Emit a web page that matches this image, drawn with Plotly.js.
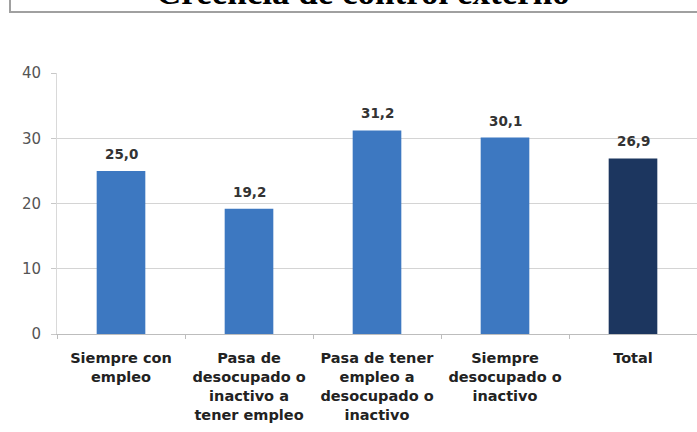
<!DOCTYPE html>
<html><head><meta charset="utf-8">
<script src="https://cdn.plot.ly/plotly-3.0.1.min.js"></script>
<style>html,body{margin:0;padding:0;background:#fff}#c{width:697px;height:432px}</style>
</head><body><div id="c"></div>
<script>
const categories = [
  "Siempre con<br>empleo",
  "Pasa de<br>desocupado o<br>inactivo a<br>tener empleo",
  "Pasa de tener<br>empleo a<br>desocupado o<br>inactivo",
  "Siempre<br>desocupado o<br>inactivo",
  "Total"
];
const values = [25.0, 19.2, 31.2, 30.1, 26.9];
const valueLabels = ["25,0", "19,2", "31,2", "30,1", "26,9"];
const barColors = ["#3d78c1", "#3d78c1", "#3d78c1", "#3d78c1", "#1c365f"];
const yTicks = [0, 10, 20, 30, 40];

const W = 697, H = 432, L = 57, R = 0, T = 73, B = 98;
const pw = W - L - R, ph = H - T - B;
const px = x => (x - L) / pw;
const py = y => (H - B - y) / ph;

const trace = {
  type: "bar",
  x: categories,
  y: values,
  width: 0.38,
  marker: { color: barColors, line: { width: 0 } },
  hoverinfo: "skip"
};

const labelAnns = categories.map((c, i) => ({
  x: c, y: values[i], xref: "x", yref: "y",
  text: "<b>" + valueLabels[i] + "</b>",
  showarrow: false, xanchor: "center", yanchor: "bottom", yshift: 7,
  font: { family: "DejaVu Sans", size: 13.5, color: "#333333" }
}));

const layout = {
  width: W, height: H,
  margin: { l: L, r: R, t: T, b: B, pad: 0 },
  paper_bgcolor: "#ffffff",
  plot_bgcolor: "#ffffff",
  showlegend: false,
  font: { family: "DejaVu Sans", color: "#444" },
  xaxis: {
    type: "category",
    range: [-0.5, 4.5],
    showgrid: false,
    showline: true, linecolor: "#bdbdbd", linewidth: 1,
    ticks: "outside", ticklen: 4, tickcolor: "#bdbdbd",
    tickson: "boundaries",
    tickfont: { family: "DejaVu Sans", size: 14.5, color: "#222222", weight: "bold" },
    ticklabelstandoff: 11
  },
  yaxis: {
    range: [0, 40],
    tickvals: yTicks,
    showgrid: true, gridcolor: "#d4d4d4", gridwidth: 1,
    zeroline: false,
    showline: true, linecolor: "#d9d9d9", linewidth: 1,
    ticks: "outside", ticklen: 5, tickcolor: "#c8c8c8",
    tickfont: { family: "DejaVu Sans", size: 15, color: "#555555" },
    ticklabelstandoff: 7
  },
  annotations: [{
    text: "<b>Creencia de control externo</b>",
    xref: "paper", yref: "paper",
    x: px(363), y: py(14),
    xanchor: "center", yanchor: "bottom",
    showarrow: false,
    font: { family: "Liberation Serif, Times New Roman", size: 35, color: "#000" }
  }].concat(labelAnns),
  shapes: [{
    type: "rect", xref: "paper", yref: "paper",
    x0: px(10), x1: px(720), y0: py(-20), y1: py(12),
    line: { color: "#a0a0a0", width: 2 },
    fillcolor: "rgba(0,0,0,0)", layer: "below"
  }]
};

Plotly.newPlot("c", [trace], layout, { displayModeBar: false, staticPlot: true });
</script>
</body></html>
